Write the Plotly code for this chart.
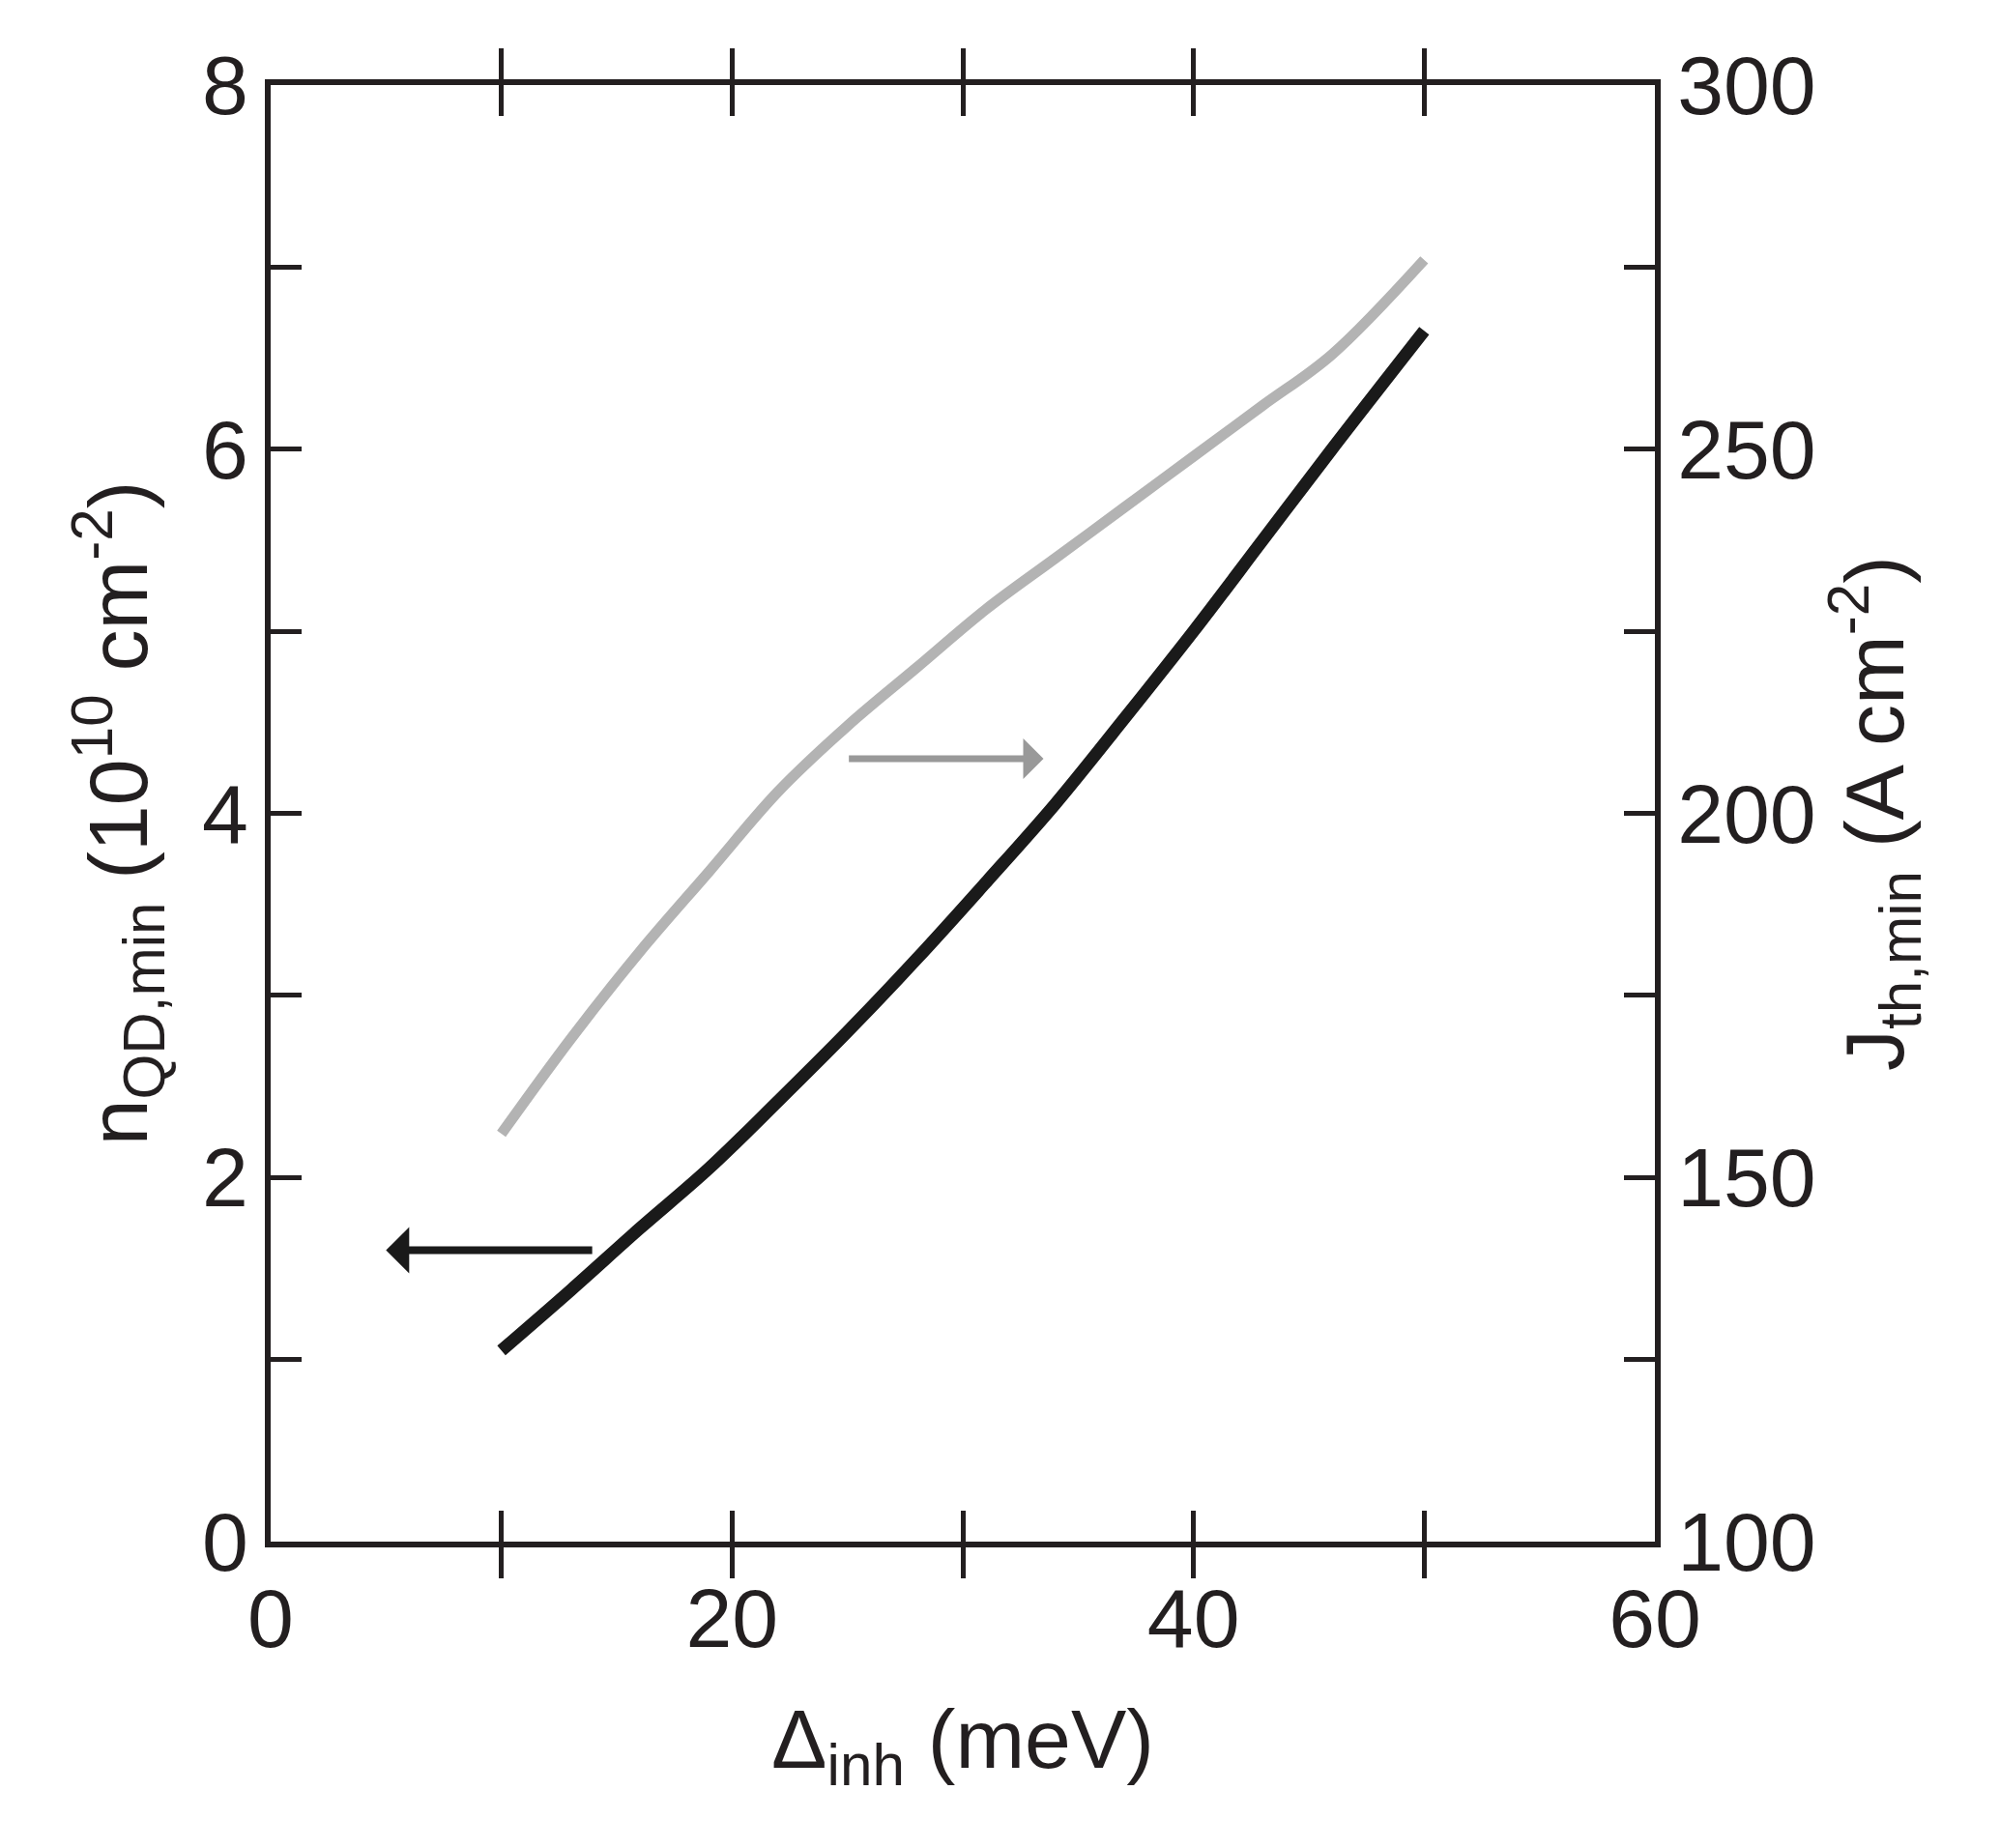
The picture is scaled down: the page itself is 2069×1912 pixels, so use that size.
import plotly.graph_objects as go

delta_inh = [10, 13, 16, 19, 22, 25, 28, 31, 34, 37, 40, 43, 46, 50]
n_qd_min = [1.05, 1.38, 1.72, 2.05, 2.42, 2.8, 3.2, 3.62, 4.05, 4.52, 5.0, 5.5, 6.0, 6.65]
j_th_min = [156, 169, 181, 192, 203, 212, 220, 228, 235, 242, 249, 256, 263, 276]

font = dict(family="Liberation Sans, Arial", size=86, color="#231f20")

fig = go.Figure()
fig.add_trace(go.Scatter(x=delta_inh, y=n_qd_min, mode="lines",
                         line=dict(color="#1a1a1a", width=13, shape="spline"),
                         yaxis="y"))
fig.add_trace(go.Scatter(x=delta_inh, y=j_th_min, mode="lines",
                         line=dict(color="#b3b3b3", width=11, shape="spline"),
                         yaxis="y2"))

axis_common = dict(showgrid=False, zeroline=False, showline=True,
                   linecolor="#231f20", linewidth=6, ticks="inside",
                   ticklen=32, tickwidth=5, tickcolor="#231f20",
                   tickfont=font)

fig.update_layout(
    width=2069, height=1912, showlegend=False,
    plot_bgcolor="white", paper_bgcolor="white",
    margin=dict(l=272, r=365, t=80, b=325),
    xaxis=dict(range=[0, 60], mirror="allticks",
               tickvals=[0, 10, 20, 30, 40, 50, 60],
               ticktext=["0", "", "20", "", "40", "", "60"],
               title=dict(text="Δ<sub>inh</sub> (meV)", font=font, standoff=50),
               **axis_common),
    yaxis=dict(range=[0, 8], tickvals=[0, 1, 2, 3, 4, 5, 6, 7, 8],
               ticktext=["0", "", "2", "", "4", "", "6", "", "8"],
               title=dict(text="n<sub>QD,min</sub> (10<sup>10</sup> cm<sup>-2</sup>)",
                          font=font, standoff=30),
               **axis_common),
    yaxis2=dict(range=[100, 300], overlaying="y", side="right",
                tickvals=[100, 125, 150, 175, 200, 225, 250, 275, 300],
                ticktext=["100", "", "150", "", "200", "", "250", "", "300"],
                title=dict(text="J<sub>th,min</sub> (A cm<sup>-2</sup>)",
                           font=font, standoff=30),
                **axis_common),
)

fig.add_annotation(x=5, y=1.6, ax=14, ay=1.6, xref="x", yref="y",
                   axref="x", ayref="y", text="", showarrow=True,
                   arrowhead=1, arrowsize=1.0, arrowwidth=8, arrowcolor="#1a1a1a")
fig.add_annotation(x=33.5, y=4.3, ax=25, ay=4.3, xref="x", yref="y",
                   axref="x", ayref="y", text="", showarrow=True,
                   arrowhead=1, arrowsize=1.0, arrowwidth=7, arrowcolor="#999999")

fig.write_html("out.html")
